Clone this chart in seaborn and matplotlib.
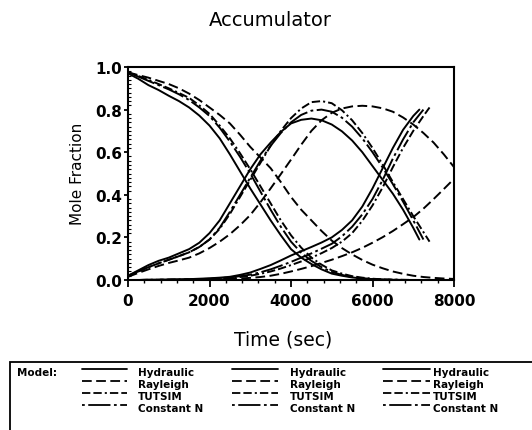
import matplotlib
matplotlib.use("Agg")
import matplotlib.pyplot as plt
import seaborn as sns
import pandas as pd
from matplotlib.lines import Line2D
from matplotlib.patches import Rectangle
from matplotlib.ticker import MultipleLocator

# ---------------- data ----------------
t_base = [0, 250, 500, 750, 1000, 1250, 1500, 1750, 2000, 2250, 2500, 2750, 3000,
          3250, 3500, 3750, 4000, 4250, 4500, 4750, 5000, 5250, 5500, 5750, 6000,
          6250, 6500, 6750, 7000]

# Hydraulic (solid)
t_hyd = t_base + [7150]
hyd_A = [0.97, 0.945, 0.915, 0.892, 0.865, 0.84, 0.81, 0.772, 0.725, 0.665, 0.59, 0.51, 0.43,
         0.355, 0.28, 0.21, 0.145, 0.105, 0.075, 0.05, 0.03, 0.02, 0.012, 0.007, 0.004,
         0.002, 0.001, 0.0, 0.0, 0.0]
hyd_B = [0.02, 0.045, 0.07, 0.09, 0.105, 0.125, 0.145, 0.175, 0.22, 0.28, 0.36, 0.44, 0.52,
         0.59, 0.645, 0.695, 0.735, 0.752, 0.758, 0.75, 0.73, 0.698, 0.655, 0.6, 0.535,
         0.47, 0.405, 0.33, 0.245, 0.19]
hyd_C = [0.0, 0.0, 0.001, 0.001, 0.002, 0.003, 0.004, 0.006, 0.008, 0.011, 0.015, 0.024, 0.035,
         0.052, 0.07, 0.092, 0.115, 0.135, 0.155, 0.176, 0.2, 0.235, 0.28, 0.345, 0.43,
         0.525, 0.62, 0.705, 0.77, 0.80]

# Constant N
t_cn = t_base + [7250]
cn_A = [0.975, 0.955, 0.935, 0.915, 0.895, 0.872, 0.845, 0.81, 0.77, 0.715, 0.65, 0.578, 0.5,
        0.415, 0.33, 0.25, 0.18, 0.128, 0.09, 0.06, 0.038, 0.024, 0.014, 0.008, 0.004,
        0.002, 0.001, 0.0, 0.0, 0.0]
cn_B = [0.02, 0.04, 0.06, 0.078, 0.095, 0.112, 0.13, 0.155, 0.19, 0.245, 0.32, 0.4, 0.48,
        0.56, 0.63, 0.69, 0.74, 0.775, 0.795, 0.8, 0.79, 0.762, 0.72, 0.665, 0.6,
        0.528, 0.45, 0.368, 0.28, 0.19]
cn_C = [0.0, 0.0, 0.001, 0.001, 0.002, 0.002, 0.003, 0.004, 0.006, 0.009, 0.012, 0.018, 0.025,
        0.036, 0.05, 0.067, 0.085, 0.105, 0.125, 0.147, 0.17, 0.205, 0.25, 0.308, 0.38,
        0.47, 0.57, 0.66, 0.74, 0.80]

# TUTSIM
t_tut = t_base + [7250, 7400]
tut_A = [0.975, 0.958, 0.94, 0.92, 0.9, 0.878, 0.855, 0.82, 0.78, 0.725, 0.665, 0.595, 0.52,
         0.44, 0.36, 0.28, 0.21, 0.152, 0.105, 0.072, 0.045, 0.03, 0.018, 0.011, 0.006,
         0.003, 0.002, 0.001, 0.0, 0.0, 0.0]
tut_B = [0.02, 0.04, 0.06, 0.078, 0.095, 0.112, 0.13, 0.155, 0.19, 0.24, 0.31, 0.39, 0.47,
         0.55, 0.63, 0.7, 0.76, 0.805, 0.835, 0.84, 0.83, 0.797, 0.75, 0.69, 0.62,
         0.542, 0.46, 0.38, 0.30, 0.225, 0.18]
tut_C = [0.0, 0.0, 0.001, 0.001, 0.002, 0.002, 0.003, 0.004, 0.005, 0.007, 0.01, 0.014, 0.02,
         0.029, 0.04, 0.054, 0.07, 0.087, 0.105, 0.126, 0.15, 0.18, 0.22, 0.278, 0.35,
         0.435, 0.53, 0.62, 0.70, 0.77, 0.81]

# Rayleigh (long dashes)
t_ray = t_base + [7250, 7500, 7750, 8000]
ray_A = [0.975, 0.962, 0.95, 0.935, 0.92, 0.9, 0.875, 0.845, 0.81, 0.775, 0.735, 0.682, 0.625,
         0.575, 0.525, 0.46, 0.39, 0.33, 0.28, 0.23, 0.185, 0.15, 0.12, 0.094, 0.072,
         0.055, 0.04, 0.029, 0.02, 0.014, 0.01, 0.007, 0.005]
ray_B = [0.015, 0.033, 0.05, 0.066, 0.08, 0.092, 0.105, 0.125, 0.15, 0.18, 0.215, 0.257, 0.305,
         0.365, 0.43, 0.497, 0.565, 0.635, 0.70, 0.75, 0.785, 0.805, 0.815, 0.818, 0.815,
         0.806, 0.79, 0.763, 0.73, 0.69, 0.645, 0.59, 0.53]
ray_C = [0.0, 0.0, 0.0, 0.001, 0.001, 0.001, 0.002, 0.002, 0.003, 0.004, 0.005, 0.007, 0.01,
         0.014, 0.02, 0.029, 0.04, 0.052, 0.065, 0.08, 0.095, 0.112, 0.13, 0.151, 0.175,
         0.201, 0.23, 0.262, 0.295, 0.335, 0.38, 0.427, 0.475]

models = ["Hydraulic", "Rayleigh", "TUTSIM", "Constant N"]
x_ticks = [0, 2000, 4000, 6000, 8000]
y_ticks = [0.0, 0.2, 0.4, 0.6, 0.8, 1.0]

series = {
    "Hydraulic": (t_hyd, [hyd_A, hyd_B, hyd_C]),
    "Rayleigh": (t_ray, [ray_A, ray_B, ray_C]),
    "TUTSIM": (t_tut, [tut_A, tut_B, tut_C]),
    "Constant N": (t_cn, [cn_A, cn_B, cn_C]),
}

rows = []
for m, (tt, comps) in series.items():
    for ci, vals in zip("ABC", comps):
        for t, v in zip(tt, vals):
            rows.append({"model": m, "comp": ci, "t": t, "f": v})
df = pd.DataFrame(rows)

# ---------------- styling ----------------
sns.set_style("ticks")
plt.rcParams["font.family"] = ["DejaVu Sans"]
plt.rcParams["lines.scale_dashes"] = False
for k in ["text.color", "axes.labelcolor", "xtick.color", "ytick.color", "axes.edgecolor"]:
    plt.rcParams[k] = "black"

dash_styles = {
    "Hydraulic": None,
    "Rayleigh": (7.0, 3.2),
    "TUTSIM": (6.0, 2.2, 6.0, 2.2, 1.5, 2.2),
    "Constant N": (2.0, 2.5, 16.0, 2.5),
}

W, H = 532, 431
fig = plt.figure(figsize=(W / 100, H / 100), dpi=100)
ax = fig.add_axes([128 / W, 1 - 281 / H, 326 / W, 213 / H])

for m in models:
    for ci in "ABC":
        sub = df[(df.model == m) & (df.comp == ci)]
        sns.lineplot(data=sub, x="t", y="f", ax=ax, color="black", lw=1.4,
                     sort=False, estimator=None, legend=False)
        ln = ax.lines[-1]
        ln.set_solid_joinstyle("round")
        if dash_styles[m] is not None:
            ln.set_dashes(dash_styles[m])

ax.set_xlim(0, 8000)
ax.set_ylim(0, 1)
ax.set_xticks(x_ticks)
ax.set_xticklabels([str(v) for v in x_ticks])
ax.set_yticks(y_ticks)
ax.set_yticklabels([f"{v:.1f}" for v in y_ticks])
ax.xaxis.set_minor_locator(MultipleLocator(400))
ax.yaxis.set_minor_locator(MultipleLocator(0.02))
ax.set_xlabel("")
ax.set_ylabel("")
for s in ax.spines.values():
    s.set_visible(True)
    s.set_linewidth(1.5)
    s.set_color("black")
ax.tick_params(axis="x", which="major", direction="out", length=5, width=1.3,
               pad=4, labelsize=11)
ax.tick_params(axis="x", which="minor", direction="out", length=2.5, width=1.0)
ax.tick_params(axis="y", which="major", direction="out", length=3, width=1.3,
               pad=1.5, labelsize=11)
ax.tick_params(axis="y", which="minor", direction="in", length=1.8, width=0.8)
for lab in ax.get_xticklabels() + ax.get_yticklabels():
    lab.set_fontweight("bold")

def fy(y):
    return 1 - y / H

fig.text(270 / W, fy(20), "Accumulator", ha="center", va="center", fontsize=14)
fig.text(78 / W, fy(174), "Mole Fraction", ha="center", va="center",
         rotation=90, fontsize=11)
fig.text(283 / W, fy(340), "Time (sec)", ha="center", va="center", fontsize=13.5)

# ---------------- legend box ----------------
fig.add_artist(Rectangle((10 / W, -0.1), 1.2, fy(363) + 0.1, transform=fig.transFigure,
                         fill=False, lw=1.3, edgecolor="black", clip_on=False))
fig.text(17 / W, fy(373), "Model:", ha="left", va="center", fontsize=7.5,
         fontweight="bold")
col_lines = [(82, 127), (232, 278), (383, 430)]
col_text = [138, 290, 433]
text_y = [373, 385, 397, 409]
line_y = [370, 382, 394, 406]
for (x0, x1), xt in zip(col_lines, col_text):
    for m, ly, ty in zip(models, line_y, text_y):
        l = Line2D([x0 / W, x1 / W], [fy(ly), fy(ly)], transform=fig.transFigure,
                   color="black", lw=1.3)
        if dash_styles[m] is not None:
            l.set_dashes(dash_styles[m])
        fig.add_artist(l)
        fig.text(xt / W, fy(ty), m, ha="left", va="center", fontsize=7.5,
                 fontweight="bold")

fig.savefig("out.png", dpi=100, facecolor="white")
